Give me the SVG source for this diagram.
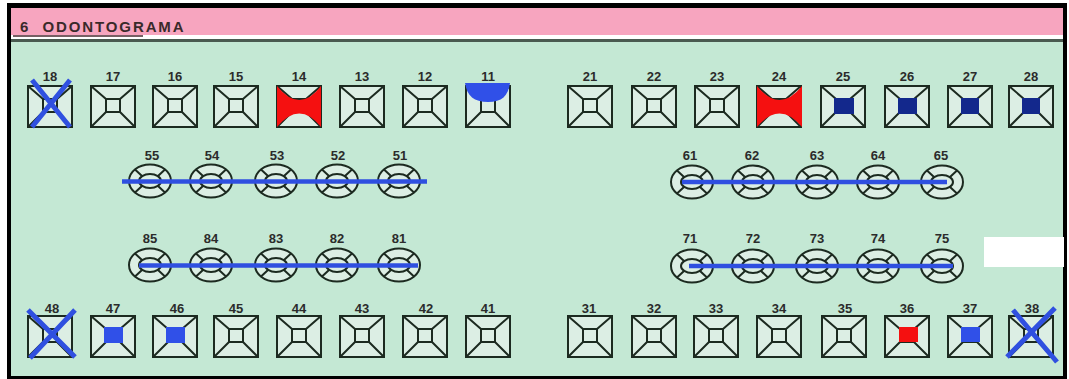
<svg xmlns="http://www.w3.org/2000/svg" xmlns:xlink="http://www.w3.org/1999/xlink" width="1069" height="379" viewBox="0 0 1069 379">
<style>
.lbl{font-family:"Liberation Sans",Arial,sans-serif;font-weight:bold;font-size:13px;fill:#2b2b2b;text-anchor:middle}
.ln{fill:none;stroke:#1c2a20;stroke-width:2}
.lnb{fill:#dceee4;stroke:#1c2a20;stroke-width:2}
.xm{stroke:#3050e0;stroke-width:5;stroke-linecap:butt}
.bar{stroke:#2f4fe0;stroke-width:4.5}
.red{fill:#f51010}
.blu{fill:#3050e8}
.nav{fill:#13288c}
</style>
<defs>
<g id="perm">
<rect class="lnb" x="0" y="0" width="44" height="41"/>
<rect class="ln" x="15" y="13" width="14" height="13"/>
<path class="ln" d="M0,0L15,13M44,0L29,13M0,41L15,26M44,41L29,26"/>
</g>
<g id="prim">
<ellipse class="lnb" cx="0" cy="0" rx="21" ry="16.5"/>
<ellipse class="ln" cx="0" cy="0" rx="11" ry="7"/>
<path class="ln" d="M-8,-5L-15,-11.5M8,-5L15,-11.5M-8,5L-15,11.5M8,5L15,11.5"/>
</g>
</defs>

<rect x="0" y="0" width="1069" height="379" fill="#ffffff"/>
<rect x="7" y="3" width="1060" height="376" fill="#000000"/>
<rect x="11" y="8" width="1052" height="368" fill="#c4e8d4"/>
<rect x="11" y="8" width="1052" height="28" fill="#f7a5bf"/>
<rect x="11" y="35" width="1052" height="4" fill="#ffffff"/>
<rect x="11" y="39" width="1052" height="3" fill="#4a5a50"/>
<text x="20" y="32" font-family="Liberation Sans,Arial,sans-serif" font-weight="bold" font-size="15" letter-spacing="1.9" fill="#3a2a2a" xml:space="preserve">6  ODONTOGRAMA</text>
<line x1="13" y1="36" x2="143" y2="36" stroke="#4a2a30" stroke-width="1.5"/>
<rect x="984" y="237" width="80" height="30" fill="#ffffff"/>

<g id="tooth-18"><text class="lbl" x="50" y="81">18</text><use href="#perm" x="28" y="86"/></g>
<g id="tooth-17"><text class="lbl" x="113" y="81">17</text><use href="#perm" x="91" y="86"/></g>
<g id="tooth-16"><text class="lbl" x="175" y="81">16</text><use href="#perm" x="153" y="86"/></g>
<g id="tooth-15"><text class="lbl" x="236" y="81">15</text><use href="#perm" x="214" y="86"/></g>
<g id="tooth-14"><text class="lbl" x="299" y="81">14</text><use href="#perm" x="277" y="86"/>
<path class="red" d="M277,86Q299.5,114 321,86L321,127Q299.5,100 277,127Z"/></g>
<g id="tooth-13"><text class="lbl" x="362" y="81">13</text><use href="#perm" x="340" y="86"/></g>
<g id="tooth-12"><text class="lbl" x="425" y="81">12</text><use href="#perm" x="403" y="86"/></g>
<g id="tooth-11"><text class="lbl" x="488" y="81">11</text><use href="#perm" x="466" y="86"/>
<path class="blu" d="M465,83L510,83C508,96 502,102 488,102C474,102 467,96 465,83Z"/></g>

<g id="tooth-21"><text class="lbl" x="590" y="81">21</text><use href="#perm" x="568" y="86"/></g>
<g id="tooth-22"><text class="lbl" x="654" y="81">22</text><use href="#perm" x="632" y="86"/></g>
<g id="tooth-23"><text class="lbl" x="717" y="81">23</text><use href="#perm" x="695" y="86"/></g>
<g id="tooth-24"><text class="lbl" x="779" y="81">24</text><use href="#perm" x="757" y="86"/>
<path class="red" d="M757,86Q779.5,114 802,86L802,127Q779.5,100 757,127Z"/></g>
<g id="tooth-25"><text class="lbl" x="843" y="81">25</text><use href="#perm" x="821" y="86"/><rect class="nav" x="834" y="98" width="20" height="16"/></g>
<g id="tooth-26"><text class="lbl" x="907" y="81">26</text><use href="#perm" x="885" y="86"/><rect class="nav" x="898" y="98" width="19" height="16"/></g>
<g id="tooth-27"><text class="lbl" x="970" y="81">27</text><use href="#perm" x="948" y="86"/><rect class="nav" x="961" y="98" width="18" height="16"/></g>
<g id="tooth-28"><text class="lbl" x="1031" y="81">28</text><use href="#perm" x="1009" y="86"/><rect class="nav" x="1022" y="98" width="18" height="16"/></g>

<g id="tooth-55"><text class="lbl" x="152" y="160">55</text><use href="#prim" x="150" y="181"/></g>
<g id="tooth-54"><text class="lbl" x="212" y="160">54</text><use href="#prim" x="211" y="181"/></g>
<g id="tooth-53"><text class="lbl" x="277" y="160">53</text><use href="#prim" x="276" y="181"/></g>
<g id="tooth-52"><text class="lbl" x="338" y="160">52</text><use href="#prim" x="337" y="181"/></g>
<g id="tooth-51"><text class="lbl" x="400" y="160">51</text><use href="#prim" x="399" y="181"/></g>
<g id="tooth-61"><text class="lbl" x="690" y="160">61</text><use href="#prim" x="692" y="182"/></g>
<g id="tooth-62"><text class="lbl" x="752" y="160">62</text><use href="#prim" x="753" y="182"/></g>
<g id="tooth-63"><text class="lbl" x="817" y="160">63</text><use href="#prim" x="817" y="182"/></g>
<g id="tooth-64"><text class="lbl" x="878" y="160">64</text><use href="#prim" x="878" y="182"/></g>
<g id="tooth-65"><text class="lbl" x="941" y="160">65</text><use href="#prim" x="942" y="182"/></g>

<g id="tooth-85"><text class="lbl" x="150" y="243">85</text><use href="#prim" x="150" y="265"/></g>
<g id="tooth-84"><text class="lbl" x="211" y="243">84</text><use href="#prim" x="211" y="265"/></g>
<g id="tooth-83"><text class="lbl" x="276" y="243">83</text><use href="#prim" x="276" y="265"/></g>
<g id="tooth-82"><text class="lbl" x="337" y="243">82</text><use href="#prim" x="337" y="265"/></g>
<g id="tooth-81"><text class="lbl" x="399" y="243">81</text><use href="#prim" x="399" y="265"/></g>
<g id="tooth-71"><text class="lbl" x="690" y="243">71</text><use href="#prim" x="692" y="266"/></g>
<g id="tooth-72"><text class="lbl" x="753" y="243">72</text><use href="#prim" x="753" y="266"/></g>
<g id="tooth-73"><text class="lbl" x="817" y="243">73</text><use href="#prim" x="817" y="266"/></g>
<g id="tooth-74"><text class="lbl" x="878" y="243">74</text><use href="#prim" x="878" y="266"/></g>
<g id="tooth-75"><text class="lbl" x="942" y="243">75</text><use href="#prim" x="942" y="266"/></g>

<g id="tooth-48"><text class="lbl" x="52" y="313">48</text><use href="#perm" x="28" y="316"/></g>
<g id="tooth-47"><text class="lbl" x="113" y="313">47</text><use href="#perm" x="91" y="316"/><rect class="blu" x="104" y="327" width="19" height="16"/></g>
<g id="tooth-46"><text class="lbl" x="177" y="313">46</text><use href="#perm" x="153" y="316"/><rect class="blu" x="166" y="327" width="19" height="16"/></g>
<g id="tooth-45"><text class="lbl" x="236" y="313">45</text><use href="#perm" x="214" y="316"/></g>
<g id="tooth-44"><text class="lbl" x="299" y="313">44</text><use href="#perm" x="277" y="316"/></g>
<g id="tooth-43"><text class="lbl" x="362" y="313">43</text><use href="#perm" x="340" y="316"/></g>
<g id="tooth-42"><text class="lbl" x="426" y="313">42</text><use href="#perm" x="403" y="316"/></g>
<g id="tooth-41"><text class="lbl" x="488" y="313">41</text><use href="#perm" x="466" y="316"/></g>

<g id="tooth-31"><text class="lbl" x="589" y="313">31</text><use href="#perm" x="568" y="316"/></g>
<g id="tooth-32"><text class="lbl" x="654" y="313">32</text><use href="#perm" x="632" y="316"/></g>
<g id="tooth-33"><text class="lbl" x="716" y="313">33</text><use href="#perm" x="694" y="316"/></g>
<g id="tooth-34"><text class="lbl" x="779" y="313">34</text><use href="#perm" x="757" y="316"/></g>
<g id="tooth-35"><text class="lbl" x="845" y="313">35</text><use href="#perm" x="822" y="316"/></g>
<g id="tooth-36"><text class="lbl" x="907" y="313">36</text><use href="#perm" x="885" y="316"/><rect class="red" x="899" y="327" width="19" height="15"/></g>
<g id="tooth-37"><text class="lbl" x="970" y="313">37</text><use href="#perm" x="948" y="316"/><rect class="blu" x="961" y="327" width="19" height="15"/></g>
<g id="tooth-38"><text class="lbl" x="1032" y="313">38</text><use href="#perm" x="1009" y="316"/></g>

<g id="connectors">
<line class="bar" x1="122" y1="181.5" x2="427" y2="181.5"/>
<line class="bar" x1="139" y1="265.5" x2="418" y2="265.5"/>
<line class="bar" x1="682" y1="182" x2="947" y2="182"/>
<line class="bar" x1="689" y1="266" x2="953" y2="266"/>
<path class="xm" d="M32,80L70,127M70,80L32,127"/>
<path class="xm" d="M28,310L75,357M75,310L30,358"/>
<path class="xm" d="M1007,357L1055,308M1013,310L1057,362"/>
</g>
</svg>
